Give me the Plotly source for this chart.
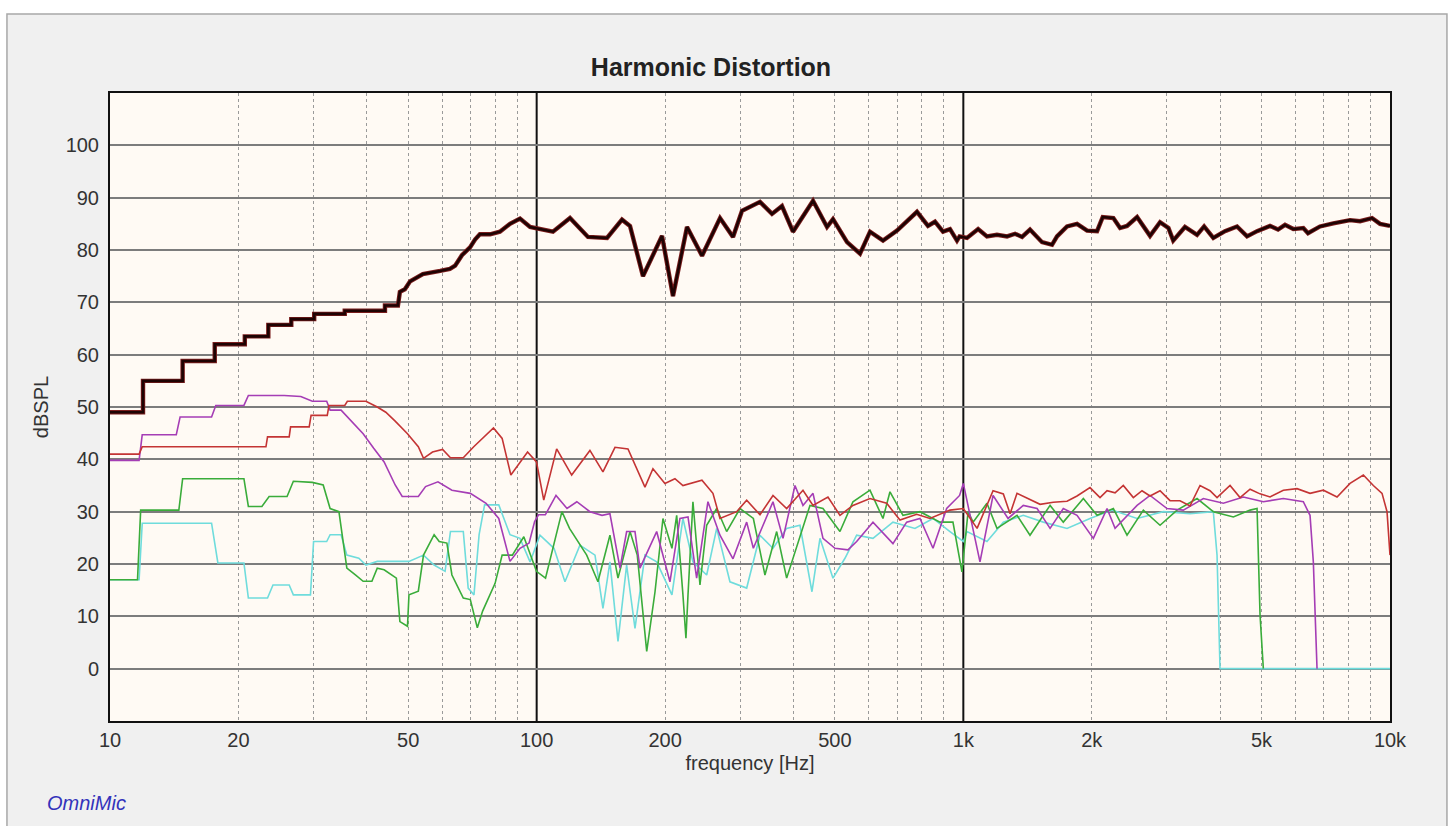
import plotly.graph_objects as go

# ---------------- data (frequency in Hz, level in dBSPL) ----------------
fund_f = [10, 11.95, 11.95, 14.8, 14.8, 17.6, 17.6, 20.7, 20.7, 23.5, 23.5, 26.6, 26.6, 30.1, 30.1, 35.5, 35.5, 44.1, 44.1, 47.3,
          47.8, 49.1, 50.5, 54.1, 59.4, 62.6, 64.4, 66.8, 69.8, 71.7, 73.6, 77.8, 82, 86.6, 91.4, 96.5,
          109.2, 119.7, 131.9, 146.2, 158.5, 165.5, 177.5, 196.7, 208.7, 225.1, 244.1, 269, 288.5, 302.9, 333.8,
          356.1, 375.8, 398.8, 444.3, 479.2, 494.9, 533.9, 572.6, 604.4, 648.3, 699.1, 778.7, 826.3, 858.1, 896,
          930.6, 966.4, 980, 1020, 1083, 1136, 1199, 1266, 1322, 1373, 1433, 1529, 1614, 1658, 1750, 1847, 1950,
          2058, 2122, 2247, 2330, 2419, 2554, 2739, 2891, 3025, 3104, 3307, 3530, 3667, 3854, 4104, 4380, 4623,
          4880, 5233, 5465, 5675, 5935, 6264, 6425, 6855, 7365, 8060, 8507, 9076, 9476, 10000]
fund_db = [49, 49, 55, 55, 58.8, 58.8, 62, 62, 63.5, 63.5, 65.7, 65.7, 66.8, 66.8, 67.8, 67.8, 68.4, 68.4, 69.4, 69.4,
           72, 72.5, 74, 75.4, 76, 76.4, 77, 79, 80.5, 82, 83, 83, 83.5, 85, 86, 84.4,
           83.5, 86.1, 82.5, 82.3, 85.8, 84.6, 75, 82.7, 71.2, 84.4, 78.9, 86.1, 82.5, 87.5, 89.2,
           86.9, 88.4, 83.5, 89.4, 84.4, 85.9, 81.5, 79.3, 83.5, 81.8, 83.7, 87.3, 84.6, 85.4, 83.5,
           84, 81.8, 82.6, 82.3, 84.0, 82.6, 82.9, 82.6, 83.1, 82.5, 83.9, 81.5, 81.0, 82.6, 84.5, 85.0, 83.7,
           83.6, 86.3, 86.1, 84.2, 84.6, 86.3, 82.7, 85.3, 84.2, 81.8, 84.4, 82.9, 84.5, 82.3, 83.6, 84.5, 82.6,
           83.6, 84.6, 83.9, 84.8, 84.0, 84.2, 83.2, 84.5, 85.1, 85.7, 85.5, 86.1, 85.0, 84.6]

h2_f = [10, 11.7, 11.9, 23.2, 23.4, 26.3, 26.5, 29.3, 29.6, 32.3, 32.6, 35.5, 36, 39.8, 42.3, 44.3, 46.6, 49.8, 52.8,
        54.3, 57, 60.2, 62.8, 67.3, 71.2, 79.2, 83, 87, 95.2, 99.9, 103.9, 111.4, 120.8, 133.3, 143, 152.6, 163.7,
        179.4, 187.3, 199.8, 210.9, 220.2, 244, 258.9, 268.9, 294.3, 310.6, 333.7, 358, 385.4, 420.9, 444.3, 481.6,
        513.9, 551.2, 604.2, 661.2, 710.4, 777.4, 835.3, 930.5, 1000, 1077, 1174, 1241, 1287, 1336, 1433, 1513,
        1625, 1750, 1847, 1981, 2091, 2172, 2268, 2371, 2503, 2623, 2739, 2891, 3051, 3220, 3399, 3587, 3786,
        3932, 4218, 4452, 4699, 4959, 5233, 5623, 6055, 6495, 6978, 7514, 8060, 8660, 9140, 9579, 9841, 10000]
h2_db = [41, 41, 42.4, 42.4, 44.3, 44.3, 46.2, 46.2, 48.4, 48.4, 50.3, 50.3, 51.1, 51.1, 50, 49, 47.3, 44.9, 42.4,
         40.2, 41.4, 41.9, 40.3, 40.3, 42.4, 46, 44, 37, 41.4, 39.5, 32.2, 42, 37, 41.7, 37.6, 42.3, 42,
         34.7, 38.2, 35.4, 36.3, 35, 36, 33.5, 28.7, 30, 32.2, 29.4, 33.1, 30.6, 34.1, 31.2, 32.8,
         29.3, 31.2, 32.5, 31.6, 28.4, 29.5, 28.7, 30.3, 30.6, 26.8, 34, 33.4, 29.6, 33.5, 32.4, 31.4,
         31.8, 32, 33, 34.6, 32.7, 34, 33.6, 35, 32.7, 34, 33, 34, 32.1, 32.1, 31.1, 35, 34,
         32.7, 35, 32.7, 34.3, 33.4, 32.8, 34.1, 34.4, 33.5, 34.1, 32.8, 35.4, 37, 35, 33.5, 30, 21.7]

h3_f = [10, 11.7, 11.9, 14.3, 14.6, 17.3, 17.7, 20.6, 21.1, 25.6, 28, 29.8, 32.2, 32.8, 34.8, 36.9, 39.2, 41.5, 43.9,
        46.6, 48.4, 52.8, 54.9, 58.7, 63.3, 69.9, 76.1, 81.5, 86.6, 91.4, 96, 98.9, 101, 104.8, 111, 117.8, 124.2,
        133.3, 142.3, 148.5, 156.8, 162.5, 170, 174.6, 191.1, 205.3, 216.7, 226.3, 237.1, 252, 268.9, 288.5, 310.6,
        322, 358, 377.9, 403.1, 420.9, 444.3, 468.9, 500.2, 536.5, 562.3, 614.1, 684, 736.5, 791.4, 849, 914, 980,
        1000, 1037, 1094, 1174, 1273, 1382, 1489, 1597, 1715, 1847, 2017, 2172, 2268, 2554, 2739, 3002, 3278,
        3652, 4068, 4532, 5048, 5623, 6264, 6495, 6612, 6745]
h3_db = [39.8, 39.8, 44.7, 44.7, 48.1, 48.1, 50.3, 50.3, 52.2, 52.2, 52, 51.1, 51.1, 49.4, 49.4, 47.1, 44.9, 42.1, 39.5,
         35.1, 32.9, 32.9, 34.8, 35.7, 34.1, 33.5, 31.6, 28.7, 20.5, 23, 24, 28.1, 29.4, 29.4, 33.1, 30.6, 31.9,
         30, 29.3, 29.6, 19.2, 26.2, 26.2, 19.2, 26.2, 16.6, 28.7, 29, 17.3, 31.9, 25.5, 21, 28,
         23, 31.9, 24.9, 35, 31.2, 33.5, 24.9, 23, 22.7, 24.3, 28, 23.9, 28, 28.7, 23, 30.6, 33.1,
         35.4, 29.3, 20.4, 33.1, 28.7, 31.2, 30.6, 26.8, 30.6, 29.3, 24.9, 30.6, 26.8, 31.2, 33.1, 30.6, 30.3,
         32.5, 31.6, 32.8, 31.9, 32.5, 31.9, 29.3, 20.4, 0]

h4_f = [10, 11.6, 11.8, 14.5, 14.8, 20.6, 21.1, 22.7, 23.6, 26, 26.9, 29.8, 31.6, 32.8, 34.4, 35.2, 35.9, 37.6, 39.2,
        41.1, 42.3, 43.9, 46.9, 47.8, 49.8, 50.2, 52.8, 54.3, 57.5, 59.1, 61.6, 63.3, 67.3, 69.9, 72.6, 74.7, 79.9,
        83, 87.7, 93.3, 99.9, 104.9, 114.6, 119.4, 131, 139.2, 148.5, 155.1, 165.5, 172.1, 181.1, 189.4, 197.7,
        207.5, 212.9, 220.2, 223.8, 226.3, 232.4, 241.4, 250.3, 264.2, 278.8, 299.6, 322, 342.8, 365.2, 385.4,
        414.1, 437.1, 468.9, 513.9, 551.2, 604.2, 648.1, 673.1, 721.9, 791.4, 881.6, 945.5, 992.6, 1026, 1054,
        1136, 1199, 1336, 1433, 1597, 1715, 1911, 2058, 2247, 2419, 2642, 2891, 3169, 3530, 3854, 4294, 4699,
        4880, 4959, 5048]
h4_db = [17, 17, 30.3, 30.3, 36.3, 36.3, 31, 31, 32.9, 32.9, 35.8, 35.6, 35.1, 30.6, 30, 24.3, 19.2, 17.9, 16.7,
         16.7, 19.2, 18.9, 17.3, 9, 8.1, 14.1, 14.8, 21.7, 25.6, 24.3, 24, 17.9, 13.5, 13.2, 7.8, 11, 16.3,
         21.7, 21.7, 25.2, 18.6, 17.3, 30, 26.8, 21.7, 16.6, 25.5, 17.3, 26.2, 21.7, 3.3, 14.7, 28.7,
         23, 29.3, 14.1, 5.8, 14.1, 31.9, 16, 27.4, 30.6, 26.2, 30.6, 28.7, 17.9, 26.2, 17.3,
         25.5, 31.2, 30.6, 26.2, 31.9, 34.1, 28.7, 33.8, 29.3, 30, 28, 28, 18.5, 30, 28,
         31.6, 26.8, 29.3, 25.5, 31.2, 28, 32.5, 29.3, 30.6, 25.5, 30.3, 27.4, 30.3, 32.5, 30, 29, 30.3,
         30.6, 10.3, 0]

h5_f = [10, 11.7, 11.9, 17.3, 17.9, 20.6, 21.1, 23.4, 24.1, 26.3, 26.9, 29.5, 30, 32.2, 32.8, 34.8, 35.9, 38.3, 39.8,
        42.3, 50.2, 54.3, 57.5, 61, 62.8, 67.3, 69.1, 71.3, 73.3, 75.5, 81.5, 86.6, 91.4, 96.5, 101.8, 109.8, 116.5,
        126.3, 137, 143, 148.5, 155.1, 162.5, 170, 179.4, 191.1, 207.5, 220.2, 232.4, 250.3, 264.2, 283.8, 310.6,
        333.7, 358, 385.4, 414.1, 441.8, 461.3, 494.9, 527.9, 562.3, 614.1, 684, 770.3, 849, 930.5, 1000, 1020,
        1136, 1241, 1382, 1540, 1750, 1981, 2231, 2554, 2943, 3399, 3854, 3932, 3996, 10000]
h5_db = [17, 17, 27.8, 27.8, 20.2, 20.2, 13.5, 13.5, 16, 16, 14.1, 14.1, 24.3, 24.3, 25.6, 25.6, 21.7, 21.1, 19.8,
         20.5, 20.5, 21.7, 19.8, 18.6, 26.2, 26.2, 15.4, 14.1, 25.6, 31.3, 31.3, 25.6, 24.9, 20.4, 25.5, 23, 16.6,
         23.6, 21.7, 11.5, 20.4, 5.2, 19.8, 7.7, 21.7, 20.4, 14.1, 28.7, 20.4, 17.9, 26.8, 16.6, 15.4,
         25.5, 23, 26.8, 27.4, 14.7, 24.9, 17.3, 21.1, 25.5, 24.9, 28, 26.8, 28.7, 26.2, 24.3, 26.2,
         24.3, 28, 29.3, 28, 26.8, 28.7, 30.3, 28.7, 30, 29.6, 30, 21.7, 0, 0]

x_tick_vals = [10, 20, 50, 100, 200, 500, 1000, 2000, 5000, 10000]
x_tick_text = ["10", "20", "50", "100", "200", "500", "1k", "2k", "5k", "10k"]
x_minor_vals = [20, 30, 40, 50, 60, 70, 80, 90, 200, 300, 400, 500, 600, 700, 800, 900,
                2000, 3000, 4000, 5000, 6000, 7000, 8000, 9000]
x_decades = [100, 1000]
y_tick_vals = [0, 10, 20, 30, 40, 50, 60, 70, 80, 90, 100]

# ---------------- figure ----------------
FONT = "Liberation Sans, Arial, sans-serif"
fig = go.Figure()

series = [
    (h5_f, h5_db, "#6fdcdc", 1.6),
    (h4_f, h4_db, "#3aac3a", 1.6),
    (h3_f, h3_db, "#a53db5", 1.6),
    (h2_f, h2_db, "#c43434", 1.6),
]
for f, db, col, w in series:
    fig.add_trace(go.Scatter(x=f, y=db, mode="lines", line=dict(color=col, width=w), showlegend=False))

fig.add_trace(go.Scatter(x=fund_f, y=fund_db, mode="lines",
                         line=dict(color="#7a1c1c", width=4.4), showlegend=False))
fig.add_trace(go.Scatter(x=fund_f, y=fund_db, mode="lines",
                         line=dict(color="#1e0303", width=2.6), showlegend=False))

# panel background and plot background
fig.add_shape(type="rect", xref="paper", yref="paper", x0=-0.0805, x1=1.0445, y0=-0.18, y1=1.1258,
              fillcolor="#f0f0f0", line=dict(color="#a8a8a8", width=1.5), layer="below")
fig.add_shape(type="rect", xref="paper", yref="paper", x0=0, x1=1, y0=0, y1=1,
              fillcolor="#fffaf4", line=dict(width=0), layer="below")
for d in x_decades:
    fig.add_shape(type="line", xref="x", yref="paper", x0=d, x1=d, y0=0, y1=1,
                  line=dict(color="#111111", width=2), layer="below")

fig.update_layout(
    width=1450, height=826, autosize=False,
    margin=dict(l=110, r=60, t=93, b=105),
    paper_bgcolor="white", plot_bgcolor="#fffaf4",
    font=dict(family=FONT, size=20, color="#333333"),
    title=dict(text="<b>Harmonic Distortion</b>", x=(711 - 110) / 1280, xref="paper", xanchor="center",
               y=1 - 67 / 826, yref="container", yanchor="middle",
               font=dict(family=FONT, size=25, color="#222222")),
    showlegend=False,
)
fig.update_xaxes(
    type="log", range=[1, 4], tickvals=x_tick_vals, ticktext=x_tick_text,
    showgrid=False, zeroline=False,
    showline=True, mirror=True, linecolor="#111111", linewidth=2,
    ticks="", tickfont=dict(size=20, color="#333333"),
    minor=dict(tickvals=x_minor_vals, showgrid=True, gridcolor="#9a9a9a", griddash="dot", gridwidth=1.2, ticks=""),
    title=dict(text="frequency [Hz]", standoff=6, font=dict(size=20, color="#333333")),
)
fig.update_yaxes(
    range=[-10, 110], tickvals=y_tick_vals,
    showgrid=True, gridcolor="#7c7c7c", gridwidth=1.6, zeroline=False,
    showline=True, mirror=True, linecolor="#111111", linewidth=2,
    ticks="outside", ticklen=5, tickcolor="rgba(0,0,0,0)", tickfont=dict(size=20, color="#333333"),
    title=dict(text="dBSPL", standoff=12, font=dict(size=20, color="#333333")),
)
fig.add_annotation(text="<i>OmniMic</i>", xref="paper", yref="paper", x=(45 - 110) / 1280, y=(721 - 803) / 628,
                   xanchor="left", yanchor="middle", showarrow=False,
                   font=dict(family=FONT, size=20, color="#3333bb"))

fig.write_html("out.html")
